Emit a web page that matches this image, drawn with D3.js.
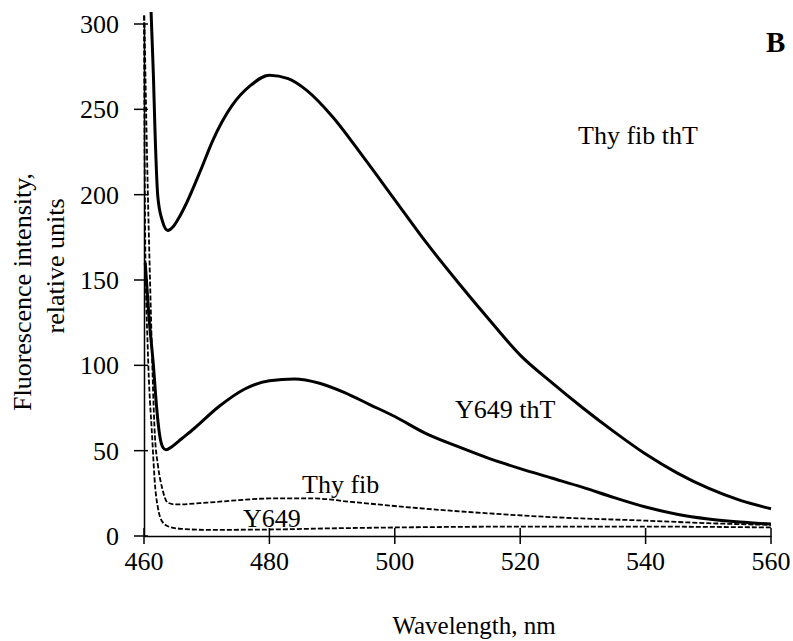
<!DOCTYPE html>
<html><head><meta charset="utf-8">
<script src="https://cdn.jsdelivr.net/npm/d3@7"></script>
<style>body{margin:0;background:#fff}svg{display:block}text{font-family:"Liberation Serif","Times New Roman",serif;fill:#000}</style>
</head><body><svg id="c" width="793" height="641"></svg>
<script>
const xTicks = [460, 480, 500, 520, 540, 560];
const yTicks = [0, 50, 100, 150, 200, 250, 300];

const thyFibThT_wl = [461.1,461.5,461.75,462.2,462.9,463.8,464.6,465.5,466.9,469,471,474,477,480,483,486,490,495,500,505,510,515,520,525,530,535,540,545,550,555,560];
const thyFibThT_v  = [310,270,238,199,185,179,181,186,196,214,232,252,264,270,268,261,246,222,197,172,149,127,106,90,75,61,48,37,28,21,16];

const y649ThT_wl = [460.2,460.8,461.5,462,462.5,463,463.5,464.5,466,468,472,476,480,484,488,492,496,500,505,510,515,520,525,530,535,540,545,550,555,560];
const y649ThT_v  = [160,128,100,76,59,52,50.5,52.5,57,63,76,86,91,92,89.5,84,77,70,60,52.5,45.5,39.5,34,28.5,22.5,17,12.8,10,8.2,7];

const thyFib_wl = [460.05,460.5,460.96,461.75,462.2,462.9,463.8,465,470,475,480,487,493,503.5,514,524.8,540,550,560];
const thyFib_v  = [305,220,150,58,42,28,19.5,18.5,19.5,21,22,22,20,16.4,13.5,11.1,9,7.5,6.5];

const y649_wl = [460.0,460.2,460.6,461.3,461.8,462.2,463,464.1,466,470,480,490,500,520,540,560];
const y649_v  = [305,170,110,58,28,17,8,5.3,4.2,3.6,3.8,4.5,5,5.5,5.5,5];

const svg = d3.select("#c");
const x = d3.scaleLinear().domain([460, 560]).range([144, 771]);
const y = d3.scaleLinear().domain([0, 300]).range([536, 24]);

svg.append("defs").append("clipPath").attr("id","clip")
  .append("rect").attr("x",140).attr("y",12).attr("width",640).attr("height",530);

const line = d3.line().x(d=>x(d[0])).y(d=>y(d[1])).curve(d3.curveMonotoneX);
const zip = (a,b)=>a.map((v,i)=>[v,b[i]]);

const g = svg.append("g").attr("clip-path","url(#clip)");
g.append("path").datum(zip(y649_wl,y649_v)).attr("d",line)
  .attr("fill","none").attr("stroke","#000").attr("stroke-width",1.8).attr("stroke-dasharray","5,2");
g.append("path").datum(zip(thyFib_wl,thyFib_v)).attr("d",line)
  .attr("fill","none").attr("stroke","#000").attr("stroke-width",1.8).attr("stroke-dasharray","5,2");
g.append("path").datum(zip(y649ThT_wl,y649ThT_v)).attr("d",line)
  .attr("fill","none").attr("stroke","#000").attr("stroke-width",3);
g.append("path").datum(zip(thyFibThT_wl,thyFibThT_v)).attr("d",line)
  .attr("fill","none").attr("stroke","#000").attr("stroke-width",3);

// Axes
const xAxis = svg.append("g").attr("transform",`translate(0,${y(0)})`)
  .call(d3.axisBottom(x).tickValues(xTicks).tickSize(0).tickFormat(""));
xAxis.select(".domain").attr("stroke","#000").attr("stroke-width",1.5);
xTicks.forEach(t=>{
  svg.append("line").attr("x1",x(t)).attr("x2",x(t)).attr("y1",y(0)-8).attr("y2",y(0)+8)
    .attr("stroke","#000").attr("stroke-width",1.5);
  svg.append("text").attr("x",x(t)).attr("y",y(0)+34).attr("text-anchor","middle")
    .attr("font-size",26).text(t);
});
const yAxis = svg.append("g").attr("transform",`translate(${x(460)},0)`)
  .call(d3.axisLeft(y).tickValues(yTicks).tickSize(0).tickFormat(""));
yAxis.select(".domain").attr("stroke","#000").attr("stroke-width",1.5);
yTicks.forEach(t=>{
  svg.append("line").attr("x1",x(460)-10).attr("x2",x(460)+4).attr("y1",y(t)).attr("y2",y(t))
    .attr("stroke","#000").attr("stroke-width",1.5);
  svg.append("text").attr("x",x(460)-25).attr("y",y(t)+9).attr("text-anchor","end")
    .attr("font-size",26).text(t);
});

svg.append("text").attr("x",474).attr("y",634).attr("text-anchor","middle").attr("font-size",25).text("Wavelength, nm");
svg.append("text").attr("transform","translate(31,292) rotate(-90)").attr("text-anchor","middle").attr("font-size",26).text("Fluorescence intensity,");
svg.append("text").attr("transform","translate(64,266) rotate(-90)").attr("text-anchor","middle").attr("font-size",26).text("relative units");

svg.append("text").attr("x",766).attr("y",52).attr("font-size",29).attr("font-weight","bold").text("B");
svg.append("text").attr("x",578).attr("y",144).attr("font-size",26).text("Thy fib thT");
svg.append("text").attr("x",455).attr("y",418).attr("font-size",26).text("Y649 thT");
svg.append("text").attr("x",302).attr("y",493).attr("font-size",26).text("Thy fib");
svg.append("text").attr("x",243).attr("y",527).attr("font-size",26).text("Y649");
</script></body></html>
